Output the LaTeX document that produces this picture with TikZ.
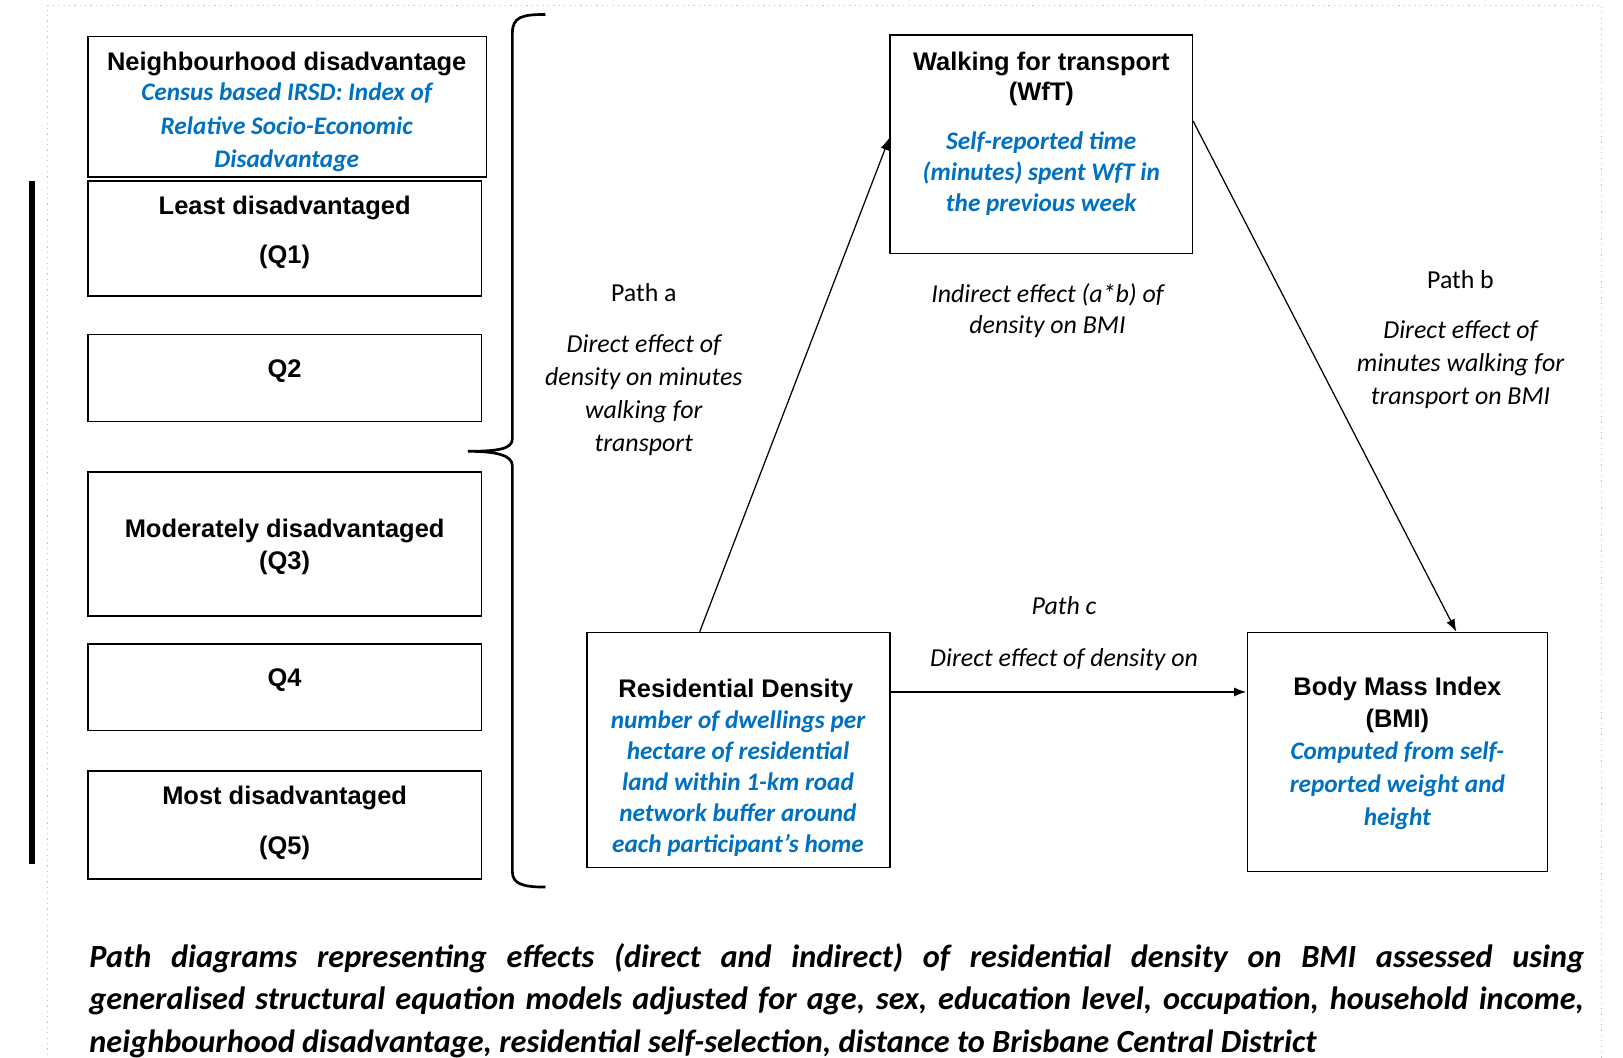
\documentclass[tikz,border=0pt]{standalone}
\usepackage{fontspec}
\newfontfamily\arialf{Liberation Sans}
\newfontfamily\calf{Carlito}
\usetikzlibrary{positioning,arrows.meta}
\definecolor{notecol}{HTML}{0070C0}
\definecolor{framecol}{HTML}{A9C6EC}

\begin{document}
\begin{tikzpicture}[x=0.5pt,y=-0.5pt,>={Latex[length=6pt,width=4.4pt]}]
    \tikzstyle{box} = [draw,shape=rectangle,line width=0.7pt,inner sep=0pt]
    \tikzstyle{head} = [inner sep=0pt,align=center,font=\arialf\bfseries\fontsize{12.3}{14.5}\selectfont]
    \tikzstyle{note} = [inner sep=0pt,align=center,text=notecol,font=\calf\bfseries\itshape\fontsize{12.2}{15}\selectfont]
    \tikzstyle{lab} = [inner sep=0pt,align=center,font=\calf\itshape\fontsize{12.5}{16}\selectfont]
    \tikzstyle{pathlab} = [inner sep=0pt,font=\calf\fontsize{12.5}{16}\selectfont]
    \tikzstyle{captext} = [inner sep=0pt,align=justify,font=\calf\bfseries\itshape\fontsize{15.6}{20.5}\selectfont]
    \useasboundingbox (0,0) rectangle (1568,1022);
    \draw[framecol,dotted,line width=0.6pt] (46,1040) -- (46,5) -- (1547,5) -- (1547,1040);
    \fill (28,175) rectangle (34,835);

    % neighbourhood quintiles
    \node[box,minimum width=192.5pt,minimum height=68pt] (nbh) at (277.5,103) {};
    \node[box,minimum width=190pt,minimum height=55.5pt] (q1) at (275,230.5) {};
    \node[box,minimum width=190pt,minimum height=42pt] (q2) at (275,365) {};
    \node[box,minimum width=190pt,minimum height=69.5pt] (q3) at (275,525.5) {};
    \node[box,minimum width=190pt,minimum height=42pt] (q4) at (275,664) {};
    \node[box,minimum width=190pt,minimum height=52pt] (q5) at (275,797) {};

    \node[head] (nbhhead) at (277,61.5) {Neighbourhood disadvantage};
    \node[note] (nbhnote) at (277,123) {Census based IRSD: Index of\\[1pt]Relative Socio-Economic\\[1pt]Disadvantage};
    \node[head] (q1head) at (275,224.5) {Least disadvantaged\\[9.5pt](Q1)};
    \node[head] (q2head) at (275,358.5) {Q2};
    \node[head] (q3head) at (275,528) {Moderately disadvantaged\\[1pt](Q3)};
    \node[head] (q4head) at (275,657.5) {Q4};
    \node[head] (q5head) at (275,795) {Most disadvantaged\\[10pt](Q5)};

    \draw[line width=1.3pt] (527,14) .. controls (505,14) and (495,16) .. (495,32) -- (495,424)
        .. controls (495,434) and (480,436) .. (452,436) .. controls (480,436) and (495,440) .. (495,450)
        -- (495,842) .. controls (495,854) and (505,857) .. (527,857);

    % path model
    \node[box,minimum width=146pt,minimum height=105.5pt] (wft) at (1006,139.5) {};
    \node[box,minimum width=146.5pt,minimum height=113.5pt] (res) at (713.5,724.5) {};
    \node[box,minimum width=145pt,minimum height=115.5pt] (bmi) at (1350,726.5) {};

    \node[head] (wfthead) at (1006,76) {Walking for transport\\(WfT)};
    \node[note] (wftnote) at (1006,167.5) {Self-reported time\\(minutes) spent WfT in\\the previous week};
    \node[head] (reshead) at (711,667.5) {Residential Density};
    \node[note] (resnote) at (713,757) {number of dwellings per\\hectare of residential\\land within 1-km road\\network buffer around\\each participant’s home};
    \node[head] (bmihead) at (1350,681) {Body Mass Index\\[1pt](BMI)};
    \node[note] (bminote) at (1350,759) {Computed from self-\\[1pt]reported weight and\\[1pt]height};

    \node[pathlab] (patha) at (622,283) {Path a};
    \node[lab] (pathatxt) at (622,381.5) {Direct effect of\\density on minutes\\walking for\\transport};
    \node[lab] (indirect) at (1012,300) {Indirect effect (a*b) of\\[-1pt]density on BMI};
    \node[pathlab] (pathb) at (1411,270) {Path b};
    \node[lab] (pathbtxt) at (1411,352.5) {Direct effect of\\minutes walking for\\transport on BMI};
    \node[lab] (pathc) at (1028,585) {Path c};
    \node[lab] (pathctxt) at (1028,637) {Direct effect of density on};

    \draw [->,line width=0.6pt] ([xshift=-18.75pt]res.north) -- ([yshift=3.25pt]wft.west);
    \draw [->,line width=0.6pt] ([yshift=11.25pt]wft.east) -- ([xshift=28.5pt]bmi.north);
    \coordinate (cstart) at ([yshift=28pt]res.east);
    \draw [->,line width=1pt] (cstart) -- (cstart -| bmi.west);

    \node[captext,anchor=north west,text width=722pt] (caption) at (86,911) {\hyphenpenalty=10000 Path diagrams representing effects (direct and indirect) of residential density on BMI assessed using\linebreak generalised structural equation models adjusted for age, sex, education level, occupation, household income,\linebreak neighbourhood disadvantage, residential self-selection, distance to Brisbane Central District};
\end{tikzpicture}
\end{document}
